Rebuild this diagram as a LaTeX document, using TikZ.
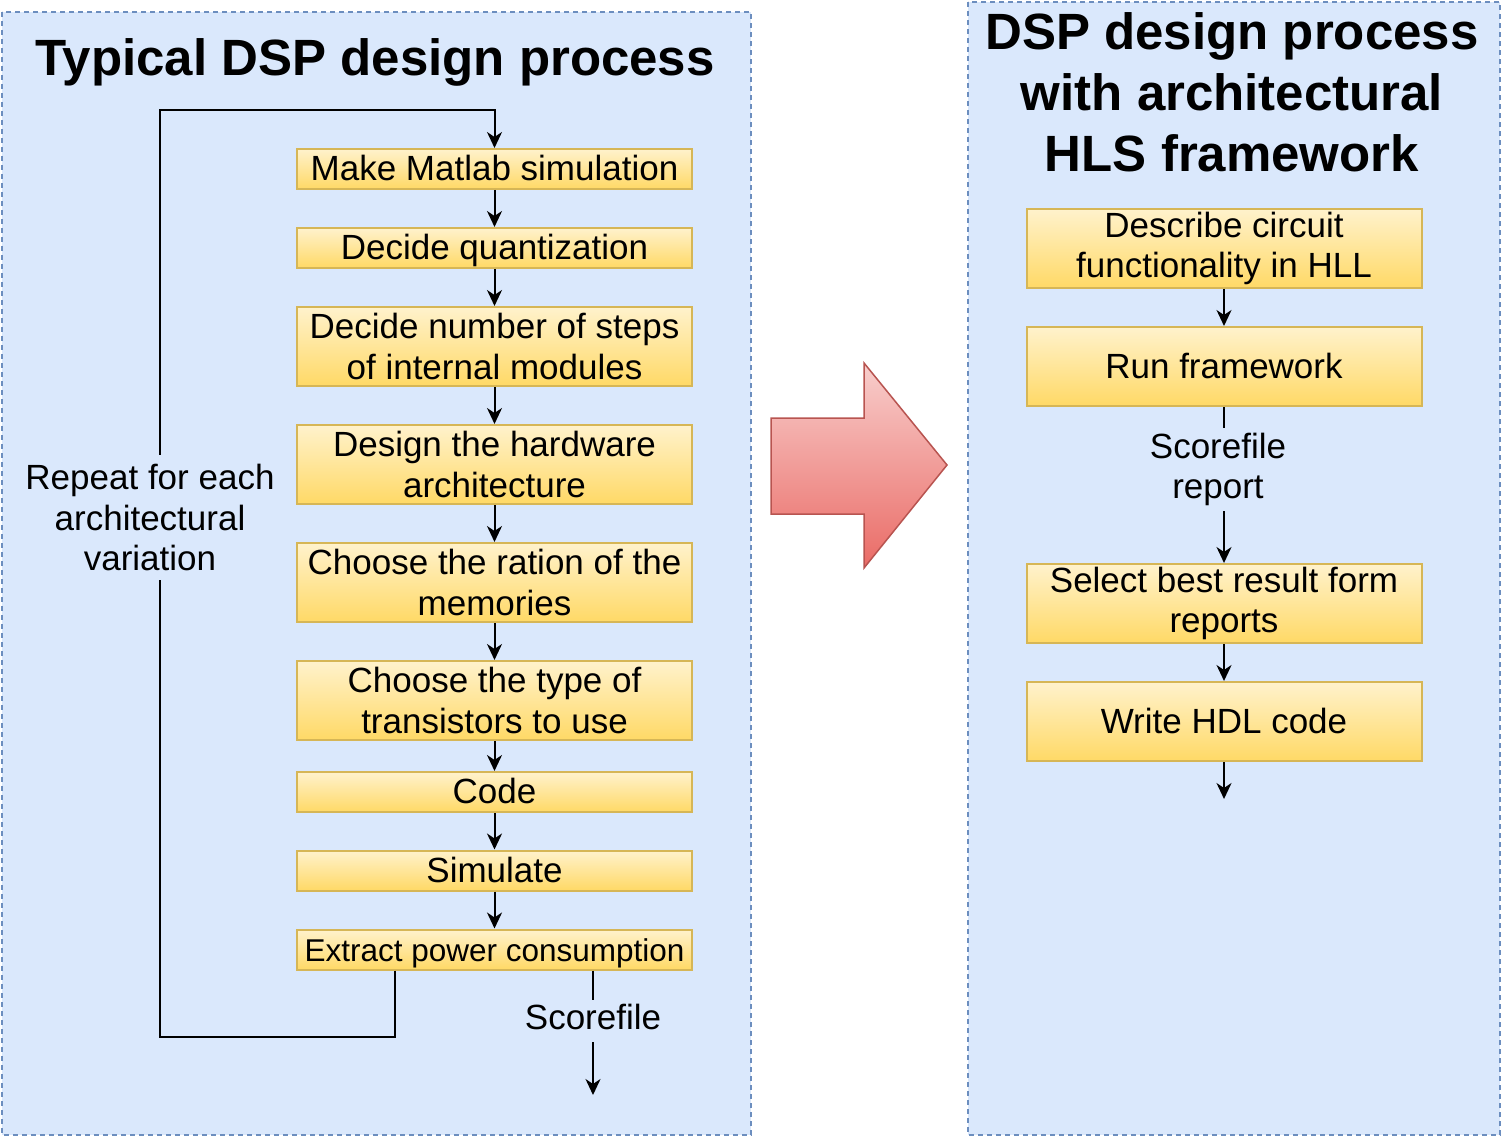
\documentclass[tikz,border=0pt]{standalone}
\usepackage{fontspec}
\setmainfont{Liberation Sans}
\usetikzlibrary{arrows.meta}
\definecolor{panelfill}{HTML}{DAE8FC}
\definecolor{panelstroke}{HTML}{6C8EBF}
\definecolor{boxtop}{HTML}{FFF2CC}
\definecolor{boxbot}{HTML}{FFD966}
\definecolor{boxstroke}{HTML}{D6B656}
\definecolor{arrtop}{HTML}{F8CECC}
\definecolor{arrbot}{HTML}{EA6B66}
\definecolor{arrstroke}{HTML}{B85450}
\newcommand\mylabfont{\fontsize{35}{40.5}\selectfont}
\newcommand\mysmallfont{\fontsize{31.5}{36}\selectfont}
\newcommand\mytitfont{\fontsize{51}{61}\selectfont\bfseries}
\tikzset{
  panel/.style={draw=panelstroke, fill=panelfill, line width=1.5pt, dash pattern=on 5pt off 4pt},
  stepbox/.style={draw=boxstroke, line width=2pt, top color=boxtop, bottom color=boxbot,
    minimum width=395pt, minimum height=40pt, inner sep=0pt, align=center, font=\mylabfont},
  tallbox/.style={stepbox, minimum height=79pt},
  oneline/.style={text height=28pt, text depth=5pt},
  lab/.style={inner sep=0pt, align=center, font=\mylabfont},
  titlef/.style={inner sep=0pt, align=center, font=\mytitfont},
  line/.style={draw=black, line width=2pt},
  conn/.style={line, -{Stealth[length=16pt, width=15pt, inset=5pt]}},
  bigarrow/.style={draw=arrstroke, line width=1.5pt, top color=arrtop, bottom color=arrbot}
}
\begin{document}
\begin{tikzpicture}[x=1pt, y=-1pt]
\useasboundingbox (0,0) rectangle (1503,1139);
% panels
\draw[panel] (2,12) rectangle (751,1135);
\draw[panel] (968,2) rectangle (1500,1135);
% titles
\node[titlef, anchor=base] (t1) at (375,76) {Typical DSP design process};
\node[titlef] (t2) at (1232,92) {DSP design process\\with architectural\\HLS framework};
% left flow
\node[stepbox, oneline] (make) at (494.5,169) {Make Matlab simulation};
\node[stepbox, oneline] (quant) at (494.5,248) {Decide quantization};
\node[tallbox] (steps) at (494.5,346.5) {Decide number of steps\\of internal modules};
\node[tallbox] (hw) at (494.5,464.5) {Design the hardware\\architecture};
\node[tallbox] (ration) at (494.5,582.5) {Choose the ration of the\\memories};
\node[tallbox] (ttype) at (494.5,700.5) {Choose the type of\\transistors to use};
\node[stepbox, oneline] (code) at (494.5,792) {Code};
\node[stepbox, oneline] (sim) at (494.5,870.5) {Simulate};
\node[stepbox, oneline, font=\mysmallfont] (extract) at (494.5,949.5) {Extract power consumption};
\draw[conn] (make) -- (quant);
\draw[conn] (quant) -- (steps);
\draw[conn] (steps) -- (hw);
\draw[conn] (hw) -- (ration);
\draw[conn] (ration) -- (ttype);
\draw[conn] (ttype) -- (code);
\draw[conn] (code) -- (sim);
\draw[conn] (sim) -- (extract);
% loop
\node[lab, minimum height=125pt] (rep) at (150,517.5) {Repeat for each\\architectural\\variation};
\coordinate (lb) at (160,1037);
\coordinate (lt) at (160,110);
\draw[line] ([xshift=99pt]extract.south west) |- (lb) -- (rep.south -| lb);
\draw[conn] (rep.north -| lb) -- (lt) -| (make.north);
% scorefile output
\node[lab, anchor=base, text height=29pt, text depth=13pt] (sc1) at (593,1029) {Scorefile};
\coordinate (sc1end) at (593,1095);
\draw[line] (extract.south -| sc1) -- (sc1);
\draw[conn] (sc1) -- (sc1end);
% big arrow
\path[bigarrow] (771,418) -- (864,418) -- (864,363) -- (947,465) -- (864,568) -- (864,514) -- (771,514) -- cycle;
% right flow
\node[tallbox] (desc) at (1224,248.5) {Describe circuit\\functionality in HLL};
\node[tallbox, oneline] (run) at (1224,366.5) {Run framework};
\node[lab, minimum height=83pt] (screp) at (1218,469.5) {Scorefile\\report};
\node[tallbox] (select) at (1224,603.5) {Select best result form\\reports};
\node[tallbox, oneline] (write) at (1224,721.5) {Write HDL code};
\coordinate (wend) at (1224,799);
\draw[conn] (desc) -- (run);
\draw[line] (run.south) -- (screp.north -| run.south);
\draw[conn] (screp.south -| select.north) -- (select);
\draw[conn] (select) -- (write);
\draw[conn] (write) -- (wend);
\end{tikzpicture}
\end{document}
